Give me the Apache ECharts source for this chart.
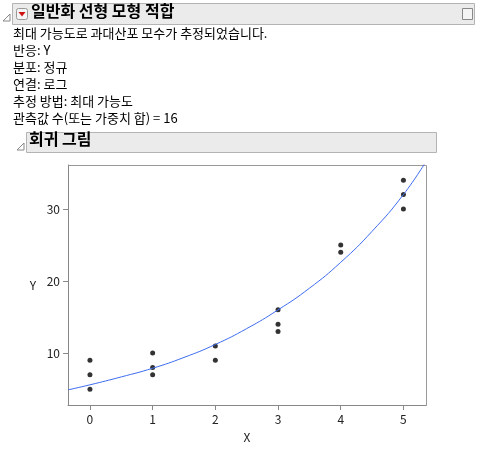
<!DOCTYPE html>
<html>
<head>
<meta charset="UTF-8">
<script src="https://cdn.jsdelivr.net/npm/echarts@6/dist/echarts.min.js"></script>
<style>html,body{margin:0;background:#fff}#c{width:483px;height:452px}</style>
</head>
<body>
<div id="c"></div>
<script>
// observed points
const xs = [0, 0, 0, 1, 1, 1, 2, 2, 3, 3, 3, 4, 4, 5, 5, 5];
const ys = [9, 7, 5, 10, 8, 7, 11, 9, 16, 14, 13, 25, 24, 34, 32, 30];
// fitted curve
const fitX = [-0.35, 0, 0.5, 1, 1.5, 2, 2.5, 3, 3.5, 4, 4.5, 5, 5.36];
const fitY = [4.9, 5.6, 6.7, 7.9, 9.4, 11.2, 13.4, 16.0, 19.0, 22.6, 26.9, 32.0, 36.6];
const infoLines = ['최대 가능도로 과대산포 모수가 추정되었습니다.', '반응: Y', '분포: 정규', '연결: 로그',
  '추정 방법: 최대 가능도', '관측값 수(또는 가중치 합) = 16'];

const font = '"Noto Sans CJK KR", sans-serif';
const chart = echarts.init(document.getElementById('c'));
const graphic = [
  { type: 'rect', shape: { x: 12.5, y: 3.5, width: 462, height: 21 }, style: { fill: '#ebebeb', stroke: '#b4b4b4' } },
  { type: 'polygon', shape: { points: [[3, 21], [10, 21], [10, 14]] }, style: { fill: '#fff', stroke: '#888' } },
  { type: 'rect', shape: { x: 16.5, y: 8.5, width: 11, height: 11, r: 2 }, style: { fill: '#f4f4f4', stroke: '#999' } },
  { type: 'polygon', shape: { points: [[18.5, 12], [25.5, 12], [22, 16.5]] }, style: { fill: '#d01010' } },
  { type: 'text', left: 31, top: 3, style: { text: '일반화 선형 모형 적합', font: 'bold 16px ' + font, fill: '#000' } },
  { type: 'rect', shape: { x: 462.5, y: 8.5, width: 10, height: 11 }, style: { fill: '#f4f4f4', stroke: '#888' } },
  { type: 'rect', shape: { x: 26.5, y: 132.5, width: 410, height: 20 }, style: { fill: '#ebebeb', stroke: '#b4b4b4' } },
  { type: 'polygon', shape: { points: [[17, 150], [24, 150], [24, 143]] }, style: { fill: '#fff', stroke: '#888' } },
  { type: 'text', left: 29, top: 131, style: { text: '회귀 그림', font: 'bold 16px ' + font, fill: '#000' } },
  { type: 'rect', shape: { x: 68.5, y: 165.5, width: 358, height: 240 }, style: { fill: 'none', stroke: '#999' } }
];
infoLines.forEach((t, i) => graphic.push({ type: 'text', left: 13, top: 27 + i * 17,
  style: { text: t, font: '13px ' + font, fill: '#000' } }));

chart.setOption({
  animation: false,
  graphic: graphic,
  grid: { left: 68, right: 57, top: 165, bottom: 47 },
  xAxis: {
    type: 'value', min: -0.35, max: 5.36, name: 'X', nameLocation: 'middle', nameGap: 26,
    nameTextStyle: { fontFamily: font, fontSize: 12, color: '#222' },
    axisLine: { onZero: false, lineStyle: { color: '#888' } }, splitLine: { show: false },
    axisLabel: { color: '#222', fontFamily: font, customValues: [0, 1, 2, 3, 4, 5] },
    axisTick: { customValues: [0, 1, 2, 3, 4, 5], lineStyle: { color: '#888' } }
  },
  yAxis: {
    type: 'value', min: 2.8, max: 36.1, name: 'Y', nameLocation: 'middle', nameGap: 32, nameRotate: 0,
    nameTextStyle: { fontFamily: font, fontSize: 12, color: '#222' },
    axisLine: { show: true, onZero: false, lineStyle: { color: '#888' } }, splitLine: { show: false },
    axisLabel: { color: '#222', fontFamily: font, customValues: [10, 20, 30] },
    axisTick: { show: true, customValues: [10, 20, 30], lineStyle: { color: '#888' } }
  },
  series: [
    { type: 'line', data: fitX.map((x, i) => [x, fitY[i]]), smooth: true, showSymbol: false,
      lineStyle: { color: '#3d6cf0', width: 1 }, clip: true },
    { type: 'scatter', data: xs.map((x, i) => [x, ys[i]]), symbolSize: 5, itemStyle: { color: '#000' } }
  ]
});
</script>
</body>
</html>
